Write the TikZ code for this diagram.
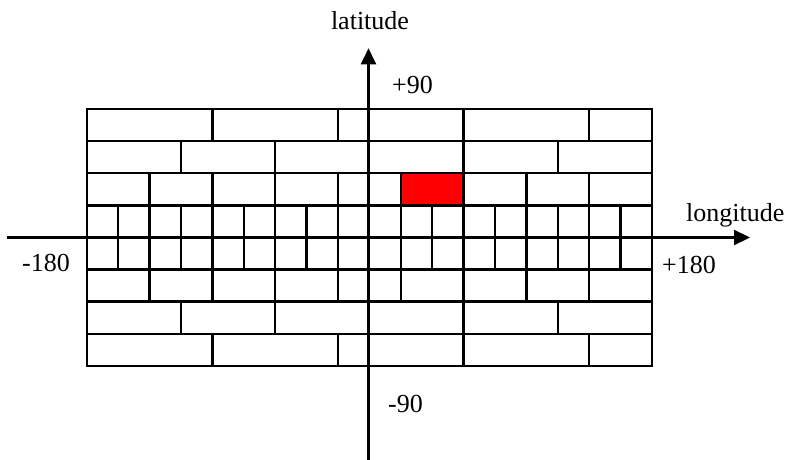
\documentclass[tikz,border=0pt]{standalone}
\usepackage{fontspec}
\setmainfont{Liberation Serif}
\usetikzlibrary{arrows.meta}
\tikzset{
  gridline/.style={line width=2.4pt, line cap=rect},
  axisline/.style={line width=2.2pt, -{Triangle[length=16pt,width=15pt]}},
  lbl/.style={inner sep=0pt, anchor=base west, font=\fontsize{26}{30}\selectfont},
}
\begin{document}
\begin{tikzpicture}[x=1pt,y=-1pt]
\useasboundingbox (0,0) rectangle (789,460);
\fill[white] (0,0) rectangle (789,460);
\begin{scope}[xshift=86.7pt,yshift=-109pt,x=31.4pt,y=-32.1pt]
  \fill[red] (10,2) rectangle (12,3);
  \foreach \r in {0,...,8} \draw[gridline] (0,\r) -- (18,\r);
  \draw[gridline] (0,0) -- (0,8);
  \draw[gridline] (18,0) -- (18,8);
  \foreach \k in {4,8,12,16} {\draw[gridline] (\k,0) -- (\k,1); \draw[gridline] (\k,7) -- (\k,8);}
  \foreach \k in {3,6,12,15} {\draw[gridline] (\k,1) -- (\k,2); \draw[gridline] (\k,6) -- (\k,7);}
  \foreach \k in {2,4,6,8,10,12,14,16} {\draw[gridline] (\k,2) -- (\k,3); \draw[gridline] (\k,5) -- (\k,6);}
  \foreach \k in {1,2,3,4,5,6,7,8,10,11,12,13,14,15,16,17} {\draw[gridline] (\k,3) -- (\k,5);}
\end{scope}
\coordinate (vbot) at (368.5,460);
\coordinate (vtop) at (368.5,48.3);
\coordinate (hl) at (7.3,237.5);
\coordinate (hr) at (750,237.5);
\draw[axisline] (vbot) -- (vtop);
\draw[axisline] (hl) -- (hr);
\node[lbl, anchor=base] (lat) at (370,30) {latitude};
\node[lbl] (p90) at (392,93.3) {+90};
\node[lbl] (m90) at (388,412) {-90};
\node[lbl] (m180) at (22,271.7) {-180};
\node[lbl] (p180) at (662,273.3) {+180};
\node[lbl] (lon) at (686,221) {longitude};
\end{tikzpicture}
\end{document}
